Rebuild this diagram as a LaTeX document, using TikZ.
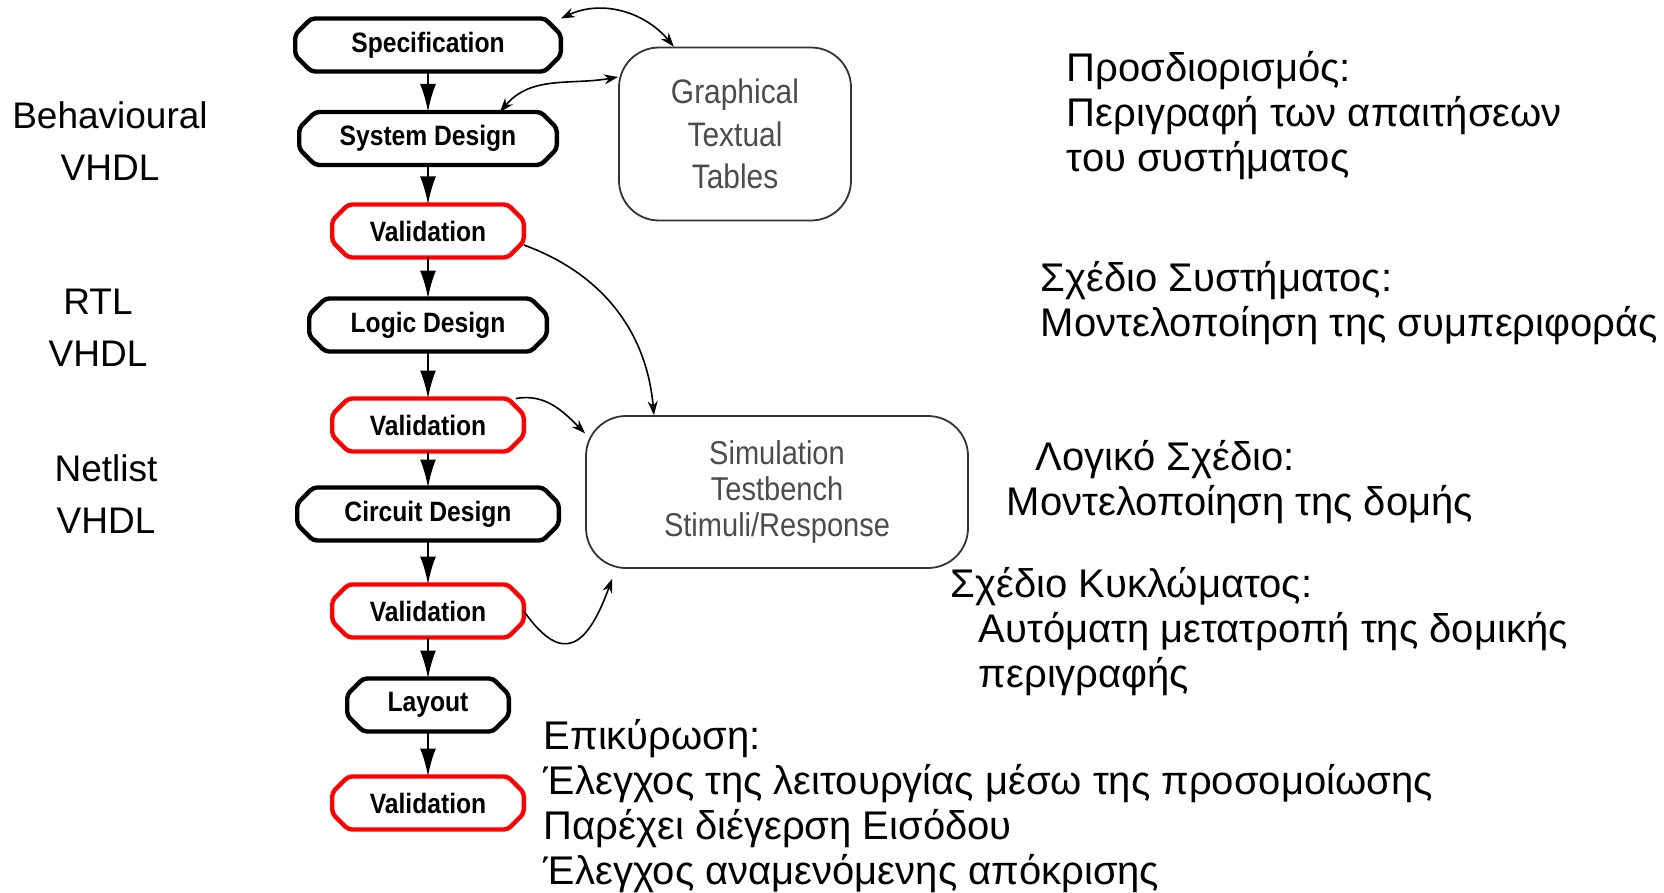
\documentclass[tikz,border=0pt]{standalone}
\usepackage{fontspec}
\setmainfont{Liberation Sans}
\newfontfamily\narrowfont{Liberation Sans}[FakeStretch=0.88]
\usetikzlibrary{arrows.meta}
\begin{document}
\begin{tikzpicture}[x=0.5pt,y=-0.5pt,line width=0.8pt,>={Stealth[length=7pt,width=5pt]},
		stage/.style={minimum height=25.7pt,inner sep=0pt,font=\narrowfont\bfseries\fontsize{14}{16}\selectfont},
		check/.style={stage,minimum width=95pt},
		infobox/.style={draw=black!80,rounded corners=20pt,line width=0.9pt,align=center,text=black!70,font=\narrowfont\fontsize{17}{21.2}\selectfont},
		level/.style={align=center,font=\fontsize{18.5}{26}\selectfont},
		note/.style={anchor=base west,align=left,inner sep=0pt,font=\fontsize{20}{22.5}\selectfont},
		flow/.style={->,line width=1.2pt,>={Latex[length=14pt,width=8pt]}}]
	\useasboundingbox (0,0) rectangle (1664,893);
	\node[stage,minimum width=132pt] (spec) at (428,45) {Specification};
	\node[stage,minimum width=128pt] (sys) at (428,138.5) {System Design};
	\node[check] (val1) at (428,231) {Validation};
	\node[stage,minimum width=118pt] (logic) at (428,325) {Logic Design};
	\node[check] (val2) at (428,425) {Validation};
	\node[stage,minimum width=130pt] (circ) at (428,514) {Circuit Design};
	\node[check] (val3) at (428,611) {Validation};
	\node[stage,minimum width=80pt] (layout) at (428,705) {Layout};
	\node[check] (val4) at (428,803) {Validation};
	\foreach \n/\c in {spec/black,sys/black,val1/red,logic/black,val2/red,circ/black,val3/red,layout/black,val4/red}
		\draw[\c,line width=2.2pt,rounded corners=2pt] ([xshift=8pt]\n.north west) -- ([xshift=-8pt]\n.north east) -- ([yshift=-8pt]\n.north east) -- ([yshift=8pt]\n.south east) -- ([xshift=-8pt]\n.south east) -- ([xshift=8pt]\n.south west) -- ([yshift=8pt]\n.south west) -- ([yshift=-8pt]\n.north west) -- cycle;
	\foreach \a/\b in {spec/sys,sys/val1,val1/logic,logic/val2,val2/circ,circ/val3,val3/layout,layout/val4}
		\draw[flow] (\a) -- (\b);
	\node[infobox,minimum width=116pt,minimum height=86.5pt] (gtt) at (735,134) {Graphical\\Textual\\Tables};
	\node[infobox,minimum width=191pt,minimum height=76pt,font=\narrowfont\fontsize{16.5}{18}\selectfont] (sim) at (777,492) {Simulation\\Testbench\\Stimuli/Response};
	\draw[<->] (spec.north east) to[out=25,in=130] (gtt.125);
	\draw[<->] ([xshift=36pt]sys.north) to[out=50,in=190] (gtt.154);
	\draw[->] ([yshift=-7pt]val1.east) to[out=-20,in=95] (sim.148);
	\draw[->] ([xshift=-4pt]val2.north east) to[out=10,in=135] (sim.163);
	\draw[->] (val3.east) to[out=-55,in=250,looseness=1.9] ([shift={(27,10)}]sim.south west);
	\node[level] (beh) at (110,141) {Behavioural\\VHDL};
	\node[level] (rtl) at (98,328) {RTL\\VHDL};
	\node[level] (net) at (106,494) {Netlist\\VHDL};
	\node[note] (spectxt) at (1066,172) {Προσδιορισμός:\\Περιγραφή των απαιτήσεων\\του συστήματος};
	\node[note] (systxt) at (1040,336) {Σχέδιο Συστήματος:\\Μοντελοποίηση της συμπεριφοράς};
	\node[note] (logictxt) at (1006,515) {\hspace*{14.5pt}Λογικό Σχέδιο:\\Μοντελοποίηση της δομής};
	\node[note] (circtxt) at (950,687) {Σχέδιο Κυκλώματος:\\\hspace*{14pt}Αυτόματη μετατροπή της δομικής\\\hspace*{14pt}περιγραφής};
	\node[note] (valtxt) at (543,884) {Επικύρωση:\\Έλεγχος της λειτουργίας μέσω της προσομοίωσης\\Παρέχει διέγερση Εισόδου\\Έλεγχος αναμενόμενης απόκρισης};
\end{tikzpicture}
\end{document}
